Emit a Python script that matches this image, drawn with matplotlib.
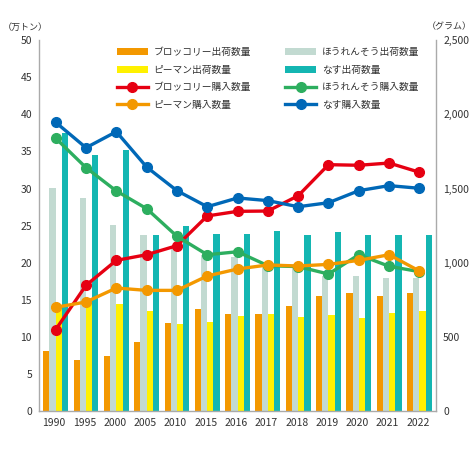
import matplotlib.pyplot as plt
import numpy as np
from matplotlib.ticker import FuncFormatter

plt.rcParams['font.family'] = ['Noto Sans CJK JP', 'DejaVu Sans']

years = ['1990', '1995', '2000', '2005', '2010', '2015', '2016',
         '2017', '2018', '2019', '2020', '2021', '2022']

# 出荷数量 (万トン)
broccoli_ship = [8.1, 6.9, 7.5, 9.3, 11.9, 13.75, 13.1, 13.1, 14.2, 15.5, 15.9, 15.5, 15.9]
spinach_ship = [30.1, 28.7, 25.1, 23.8, 22.1, 21.1, 20.8, 19.5, 19.3, 18.2, 18.3, 18.0, 18.0]
pepper_ship = [13.9, 14.9, 14.5, 13.5, 11.8, 12.1, 12.8, 13.1, 12.7, 13.0, 12.6, 13.2, 13.5]
eggplant_ship = [37.5, 34.5, 35.2, 23.7, 25.0, 23.85, 23.9, 24.3, 23.7, 24.1, 23.7, 23.7, 23.7]

# 購入数量 (グラム)
broccoli_buy = [551, 849, 1017, 1055, 1116, 1316, 1347, 1349, 1452, 1661, 1657, 1672, 1610]
spinach_buy = [1839, 1641, 1484, 1365, 1179, 1055, 1075, 981, 975, 925, 1055, 977, 941]
pepper_buy = [701, 737, 831, 815, 815, 912, 959, 986, 979, 990, 1017, 1055, 945]
eggplant_buy = [1946, 1775, 1883, 1645, 1486, 1378, 1437, 1419, 1378, 1405, 1486, 1520, 1502]

c_orange = '#F39800'
c_gray = '#C2DAD1'
c_yellow = '#FFF100'
c_teal = '#14B6B2'
c_red = '#E60012'
c_green = '#2DAE5F'
c_blue = '#0068B7'
c_text = '#333333'
c_spine = '#AAAAAA'

fig = plt.figure(figsize=(4.73, 4.5), dpi=100)
ax = fig.add_axes([0.0825, 0.0856, 0.8395, 0.8255])
ax2 = ax.twinx()

x = np.arange(len(years))
w = 0.205
b1 = ax.bar(x - 1.5 * w + 0.05, broccoli_ship, w, color=c_orange, label='ブロッコリー出荷数量')
b2 = ax.bar(x - 0.5 * w + 0.05, spinach_ship, w, color=c_gray, label='ほうれんそう出荷数量')
b3 = ax.bar(x + 0.5 * w + 0.05, pepper_ship, w, color=c_yellow, label='ピーマン出荷数量')
b4 = ax.bar(x + 1.5 * w + 0.05, eggplant_ship, w, color=c_teal, label='なす出荷数量')

kw = dict(linewidth=2.4, marker='o', markersize=7)
l1, = ax2.plot(x + 0.05, broccoli_buy, color=c_red, label='ブロッコリー購入数量', **kw)
l2, = ax2.plot(x + 0.05, spinach_buy, color=c_green, label='ほうれんそう購入数量', **kw)
l3, = ax2.plot(x + 0.05, pepper_buy, color=c_orange, label='ピーマン購入数量', **kw)
l4, = ax2.plot(x + 0.05, eggplant_buy, color=c_blue, label='なす購入数量', **kw)

ax.set_xlim(-0.5, 12.6)
ax.set_ylim(0, 50)
ax2.set_ylim(0, 2500)
ax.set_yticks(range(0, 51, 5))
ax2.set_yticks(range(0, 2501, 500))
ax2.yaxis.set_major_formatter(FuncFormatter(lambda v, p: f'{int(v):,}'))
ax.set_xticks(x)
ax.set_xticklabels(years)

for a in (ax, ax2):
    a.tick_params(length=0, labelsize=7.5, colors=c_text, pad=5)
    a.spines['top'].set_visible(False)
    for s in ('left', 'right', 'bottom'):
        a.spines[s].set_color(c_spine)
        a.spines[s].set_linewidth(1)
ax.spines['right'].set_visible(False)
ax2.spines['left'].set_visible(False)
ax2.spines['bottom'].set_visible(False)

fig.text(0.005, 0.94, '（万トン）', fontsize=6.5, color=c_text, va='center')
fig.text(0.997, 0.94, '（グラム）', fontsize=6.5, color=c_text, va='center', ha='right')

handles = [b1, b3, l1, l3, b2, b4, l2, l4]
leg = fig.legend(handles=handles, labels=[h.get_label() for h in handles],
                 ncol=2, frameon=False, fontsize=7, loc='upper left',
                 bbox_to_anchor=(0.228, 0.915), handlelength=3.2,
                 handletextpad=0.6, columnspacing=3.5, labelspacing=0.78,
                 handleheight=0.7)
for t in leg.get_texts():
    t.set_color(c_text)

fig.savefig('out.png', dpi=100)
